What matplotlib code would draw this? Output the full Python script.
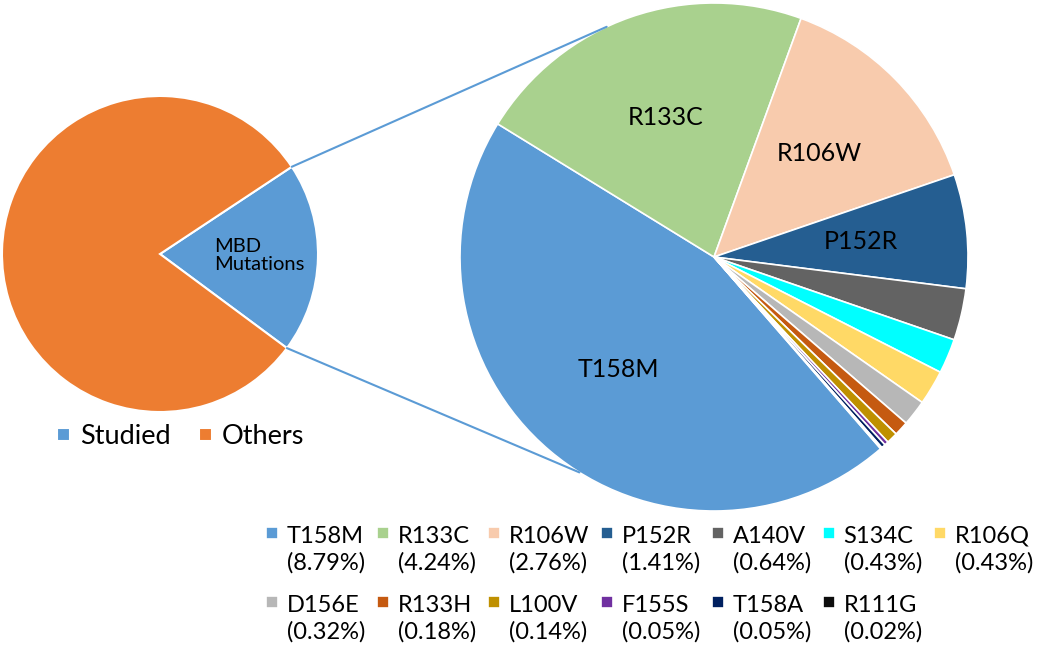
"""
Pie-of-pie: share of MBD mutations among all cases (left) and the
breakdown of the studied MBD mutations (right).
"""

import numpy as np
import matplotlib
matplotlib.use("Agg")
import matplotlib.pyplot as plt
from matplotlib.patches import ConnectionPatch, Rectangle, Wedge
from matplotlib.legend_handler import HandlerPatch

OUT_PATH = "out.png"
W, H = 1050, 653

# breakdown of studied mutations (percent of all cases)
mutations = ["T158M", "R133C", "R106W", "P152R", "A140V", "S134C", "R106Q",
             "D156E", "R133H", "L100V", "F155S", "T158A", "R111G"]
percent = [8.79, 4.24, 2.76, 1.41, 0.64, 0.43, 0.43,
           0.32, 0.18, 0.14, 0.05, 0.05, 0.02]
mutation_colors = ["#5B9BD5", "#A9D18E", "#F8CBAD", "#255E91", "#636363",
                   "#00FFFF", "#FFD966", "#B7B7B7", "#C55A11", "#BF9000",
                   "#7030A0", "#002060", "#0D0D0D"]
inside_labels = ["T158M", "R133C", "R106W", "P152R"]

overview_labels = ["Studied", "Others"]
overview_colors = ["#5B9BD5", "#ED7D31"]
studied_total = sum(percent)
overview_values = [studied_total, 100 - studied_total]

plt.rcParams["font.family"] = ["Lato", "DejaVu Sans"]
FS = 17
LEG_COLS = 7


def px_axes(fig, cx, cy, r):
    return fig.add_axes([(cx - r) / W, 1 - (cy + r) / H, 2 * r / W, 2 * r / H])


def square_handler(center_frac, size_frac=0.5):
    def make(legend, orig_handle, xdescent, ydescent, width, height, fontsize):
        s = size_frac * fontsize
        return Rectangle((-xdescent + width - s, center_frac * fontsize - s / 2), s, s)
    return HandlerPatch(patch_func=make)


def row_major(items, ncol):
    # matplotlib fills legend columns first; reorder so entries run across rows
    nrow = int(np.ceil(len(items) / ncol))
    order = []
    for c in range(ncol):
        for r in range(nrow):
            i = r * ncol + c
            if i < len(items):
                order.append(i)
    return [items[i] for i in order]


def main():
    fig = plt.figure(figsize=(W / 100, H / 100), dpi=100)

    # left pie
    ax_l = px_axes(fig, 160, 254, 158)
    wedges_l, texts_l = ax_l.pie(
        overview_values, colors=overview_colors, startangle=33.5, counterclock=False,
        labels=["MBD\nMutations", ""], labeldistance=0.34,
        wedgeprops=dict(edgecolor="white", linewidth=1.5),
        textprops=dict(fontsize=14.5, color="black"))
    texts_l[0].set_verticalalignment("center")
    texts_l[0].set_linespacing(1.1)

    # right pie
    ax_r = px_axes(fig, 714, 257, 254)
    labels_r = inside_labels + [""] * (len(mutations) - len(inside_labels))
    wedges_r, texts_r = ax_r.pie(
        percent, colors=mutation_colors, startangle=311, counterclock=False,
        labels=labels_r, labeldistance=0.58,
        wedgeprops=dict(edgecolor="white", linewidth=1.2),
        textprops=dict(fontsize=18, color="black"))
    for t in texts_r:
        t.set_horizontalalignment("center")
        t.set_verticalalignment("center")

    for ax in (ax_l, ax_r):
        ax.set_xlim(-1, 1)
        ax.set_ylim(-1, 1)
        ax.set_axis_off()

    # connector lines from the studied wedge to the breakdown pie
    studied = wedges_l[0]
    for theta_l, theta_r in ((studied.theta2, 115), (studied.theta1, -122)):
        a, b = np.deg2rad(theta_l), np.deg2rad(theta_r)
        con = ConnectionPatch(xyA=(np.cos(a), np.sin(a)), coordsA=ax_l.transData,
                              xyB=(np.cos(b), np.sin(b)), coordsB=ax_r.transData,
                              color="#5B9BD5", linewidth=1.5)
        fig.add_artist(con)

    # legends
    fig.legend(wedges_l, overview_labels, loc="center left", ncol=2,
               bbox_to_anchor=(57 / W, 1 - 437 / H), bbox_transform=fig.transFigure,
               frameon=False, fontsize=19.5, borderpad=0, borderaxespad=0,
               handlelength=0.48, handletextpad=0.37, columnspacing=1.04,
               handler_map={Wedge: square_handler(0.36, 0.48)})

    leg_labels = [f"{m}\n({p:.2f}%)" for m, p in zip(mutations, percent)]
    leg = fig.legend(row_major(list(wedges_r), LEG_COLS), row_major(leg_labels, LEG_COLS),
                     loc="upper left", ncol=LEG_COLS,
                     bbox_to_anchor=(266 / W, 1 - 526 / H), bbox_transform=fig.transFigure,
                     frameon=False, fontsize=FS, borderpad=0, borderaxespad=0,
                     handlelength=0.5, handletextpad=0.38, columnspacing=0.5,
                     labelspacing=0.9,
                     handler_map={Wedge: square_handler(1.08)})
    for t in leg.get_texts():
        t.set_linespacing(1.3)

    fig.savefig(OUT_PATH, dpi=100)


if __name__ == "__main__":
    main()
